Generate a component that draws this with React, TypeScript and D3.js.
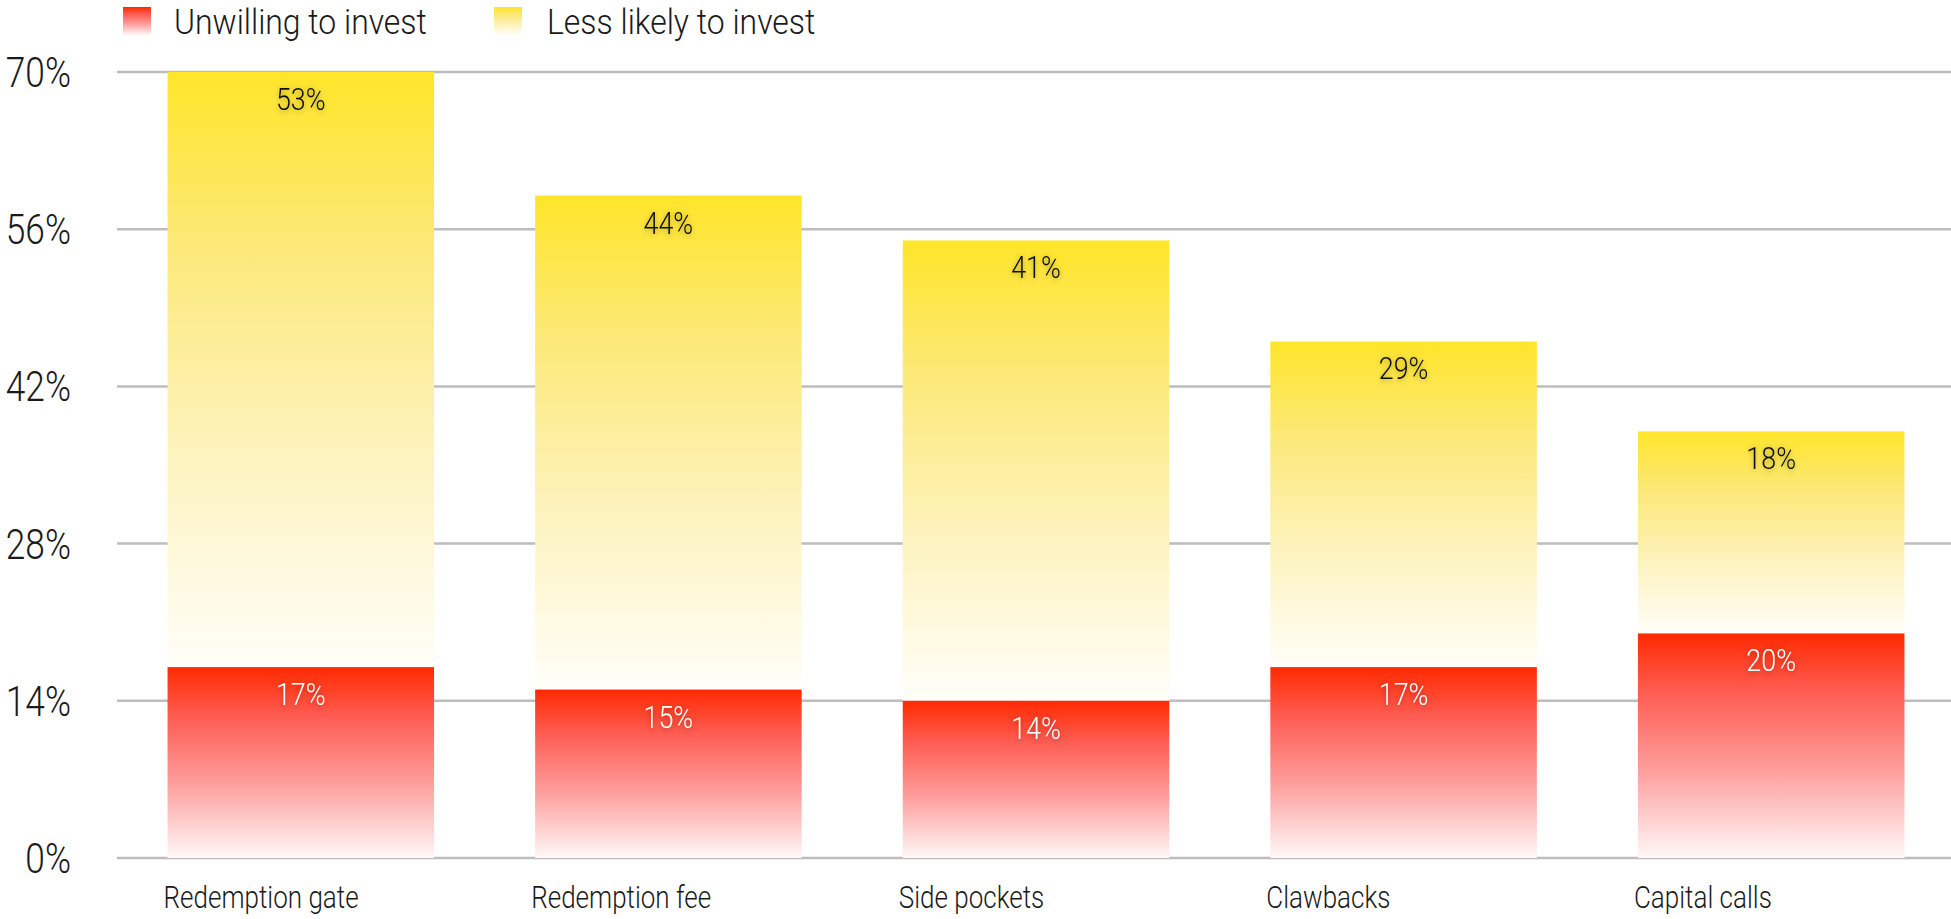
import React from "react";
import * as d3 from "d3";

const categories = ["Redemption gate", "Redemption fee", "Side pockets", "Clawbacks", "Capital calls"];
const unwilling = [17, 15, 14, 17, 20];
const lessLikely = [53, 44, 41, 29, 18];
const yTicks = [0, 14, 28, 42, 56, 70];
const seriesNames = ["Unwilling to invest", "Less likely to invest"];

const W = 1951;
const H = 919;
const FONT = "Roboto, 'Liberation Sans Narrow', sans-serif";
const SX = 0.84;

function CText(props: {
  x: number; y: number; size: number; anchor?: string; fill?: string; filter?: string; weight?: number; sx?: number; children: any;
}) {
  const { x, y, size, anchor = "start", fill = "#1a1a1a", filter, weight = 300, sx = SX, children } = props;
  return (
    <text
      transform={`translate(${x},${y}) scale(${sx},1)`}
      textAnchor={anchor}
      fontFamily={FONT}
      fontSize={size}
      fontWeight={weight}
      fill={fill}
      filter={filter}
    >
      {children}
    </text>
  );
}

export default function App() {
  const x = d3.scaleBand<string>().domain(categories).range([117, 1955]).paddingInner(0.275).paddingOuter(0.1375);
  const y = d3.scaleLinear().domain([0, 70]).range([858, 72]);
  const fmt = (v: number) => `${v}%`;

  return (
    <svg width={W} height={H} style={{ position: "absolute", left: 0, top: 0, background: "#fff" }}>
      <defs>
        <linearGradient id="gRed" x1="0" y1="0" x2="0" y2="1">
          <stop offset="0" stopColor="#ff2a00" />
          <stop offset="0.25" stopColor="#ff5a50" />
          <stop offset="0.6" stopColor="#fd9c9a" />
          <stop offset="1" stopColor="#fff8f8" />
        </linearGradient>
        <linearGradient id="gYel" x1="0" y1="0" x2="0" y2="1">
          <stop offset="0" stopColor="#ffe52a" />
          <stop offset="0.3" stopColor="#fce97a" />
          <stop offset="0.65" stopColor="#fdf3bf" />
          <stop offset="1" stopColor="#fffef9" />
        </linearGradient>
        <filter id="shadow" x="-30%" y="-50%" width="160%" height="200%">
          <feDropShadow dx="0" dy="1" stdDeviation="3" floodColor="#000" floodOpacity="0.35" />
        </filter>
      </defs>

      {/* legend */}
      <rect x={123} y={7} width={28} height={28} fill="url(#gRed)" />
      <CText x={174} y={34} size={36} sx={0.887}>{seriesNames[0]}</CText>
      <rect x={494} y={7} width={28} height={28} fill="url(#gYel)" />
      <CText x={547} y={34} size={36} sx={0.887}>{seriesNames[1]}</CText>

      {/* grid */}
      {yTicks.map((t) => (
        <g key={t}>
          <line x1={117} x2={W} y1={y(t)} y2={y(t)} stroke="#bdbdbd" strokeWidth={2.5} />
          <CText x={71} y={y(t) + 15} size={42} anchor="end">{fmt(t)}</CText>
        </g>
      ))}

      {/* bars */}
      {categories.map((c, i) => {
        const x0 = x(c)!;
        const bw = x.bandwidth();
        const r = unwilling[i];
        const l = lessLikely[i];
        return (
          <g key={c}>
            <rect x={x0} y={y(r + l)} width={bw} height={y(r) - y(r + l)} fill="url(#gYel)" />
            <rect x={x0} y={y(r)} width={bw} height={y(0) - y(r)} fill="url(#gRed)" />
          </g>
        );
      })}

      {/* labels */}
      {categories.map((c, i) => {
        const cx = x(c)! + x.bandwidth() / 2;
        const r = unwilling[i];
        const l = lessLikely[i];
        return (
          <g key={c + "l"}>
            <CText x={cx} y={y(r + l) + 38} size={32} anchor="middle" fill="#111" filter="url(#shadow)">{fmt(l)}</CText>
            <CText x={cx} y={y(r) + 38} size={32} anchor="middle" fill="#fff" filter="url(#shadow)">{fmt(r)}</CText>
            <CText x={x(c)! - 4} y={908} size={31}>{c}</CText>
          </g>
        );
      })}
    </svg>
  );
}
